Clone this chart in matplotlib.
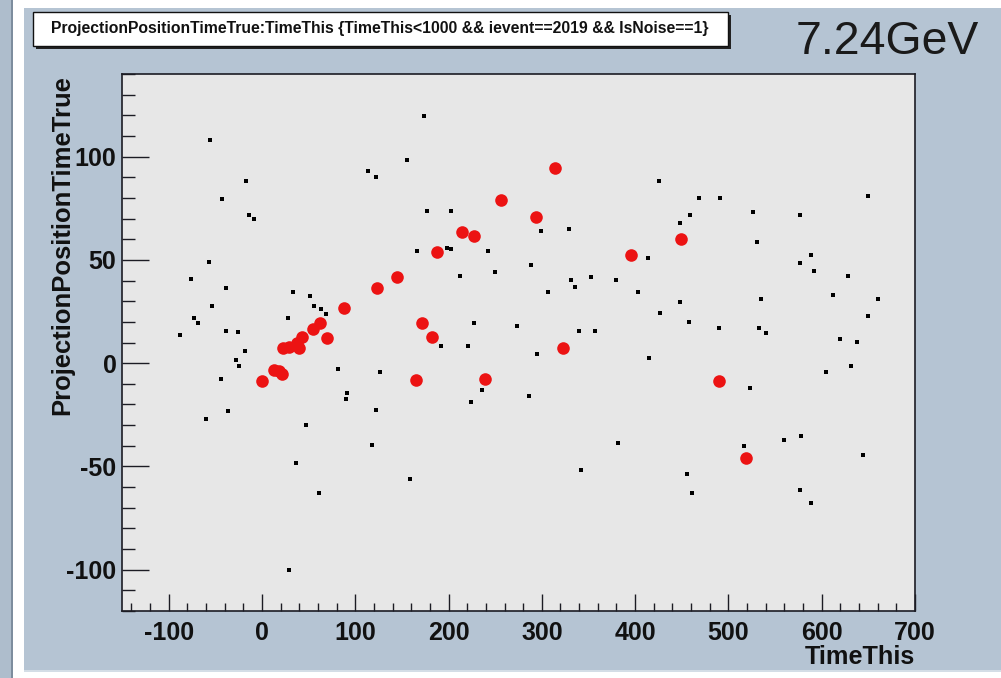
"""
plot.py - ROOT-style scatter of ProjectionPositionTimeTrue vs TimeThis
(noise hits in black, selected hits in red), written to out.png.
"""

import matplotlib
matplotlib.use("Agg")
import matplotlib.pyplot as plt
from matplotlib.patches import Rectangle
from matplotlib.ticker import MultipleLocator

plt.rcParams["axes.unicode_minus"] = False   # ROOT prints a plain hyphen

W, H = 1001, 678

# Noise hits (small black squares)
noise_x = [-55.4, -17.1, -42.8, -14.3, -9.0, 114.1, 122.1, -56.7, -76.4, -38.5,
           33.2, 51.7, 56.3, 63.8, 68.5, 27.4, -53.5, -73.2, -69.0, -87.5,
           -38.2, -26.1, -18.6, -27.5, -24.3, -44.3, -36.8, -59.6, 46.7, 36.4,
           61.0, 28.9, 81.7, 126.7, 91.6, 89.9, 122.1, 117.8,
           174.1, 155.6, 176.7, 202.7, 299.0, 329.3, 165.9, 198.1, 202.7, 241.9,
           288.3, 212.0, 250.1, 330.8, 335.4, 352.2, 379.7, 306.5, 402.9, 413.3,
           227.3, 273.0, 339.7, 357.2,
           192.0, 221.2, 294.4, 236.2, 224.4, 286.5, 381.5, 341.5, 158.8, 415.0,
           425.4, 468.5, 491.0, 649.9, 459.3, 526.3, 577.1, 448.2, 530.6,
           588.9, 576.7, 591.6, 628.5, 448.2, 535.3, 611.7, 660.6, 427.2, 457.8,
           489.6, 532.4, 540.3, 649.9,
           619.2, 638.1, 631.0, 604.2, 523.1, 578.2, 559.2, 517.1, 643.8, 456.1,
           460.7, 576.7, 588.9]
noise_y = [107.9, 88.3, 79.3, 71.7, 69.6, 93.2, 90.3, 48.9, 40.7, 36.5,
           34.6, 32.3, 27.5, 26.2, 23.9, 22.0, 27.5, 22.0, 19.2, 13.8,
           15.8, 15.0, 6.0, 1.3, -1.5, -7.6, -23.4, -26.9, -29.8, -48.4,
           -63.0, -100.0, -2.7, -4.2, -14.5, -17.4, -22.9, -39.5,
           119.5, 98.6, 73.8, 73.8, 64.1, 64.9, 54.4, 55.9, 55.1, 54.4,
           47.6, 42.1, 44.1, 40.5, 37.1, 41.5, 40.5, 34.6, 34.6, 51.0,
           19.2, 17.9, 15.7, 15.7,
           8.2, 8.2, 4.2, -13.2, -18.7, -16.0, -38.7, -51.8, -56.0, 2.6,
           88.3, 80.1, 80.1, 80.7, 71.7, 73.0, 71.7, 67.7, 58.6,
           52.5, 48.3, 44.7, 42.1, 29.7, 31.2, 32.9, 31.0, 24.1, 20.0,
           17.1, 17.1, 14.4, 22.6,
           11.5, 10.4, -1.5, -4.2, -11.9, -35.4, -37.4, -40.0, -44.4, -53.9,
           -63.0, -61.5, -67.8]

# Selected hits (red dots)
sel_x = [0.0, 12.4, 17.8, 21.4, 22.5, 28.5, 37.5, 39.2, 42.8, 55.2,
         62.4, 69.6, 88.4, 123.1, 144.5, 164.9, 171.6, 182.7, 187.4, 214.8,
         227.3, 239.1, 255.9, 293.7, 314.0, 322.9, 396.1, 449.7, 489.6, 518.5]
sel_y = [-8.4, -3.5, -3.9, -5.1, 7.1, 7.7, 9.9, 7.5, 12.6, 16.3,
         19.6, 12.0, 26.5, 36.5, 41.5, -8.2, 19.2, 12.7, 53.8, 63.4,
         61.5, -7.9, 78.8, 70.6, 94.6, 7.5, 52.6, 59.9, -8.4, -45.7]

TITLE = "ProjectionPositionTimeTrue:TimeThis {TimeThis<1000 && ievent==2019 && IsNoise==1}"

PAD_COLOR = "#b5c4d3"
FRAME_COLOR = "#e7e7e7"
INK = "#111111"
BOLD = ["Liberation Sans", "DejaVu Sans"]

fig = plt.figure(figsize=(W / 100, H / 100), dpi=100, facecolor="white")

# background layer in pixel coordinates (origin top-left)
bg = fig.add_axes([0, 0, 1, 1], zorder=0)
bg.set_xlim(0, W)
bg.set_ylim(H, 0)
bg.axis("off")

bg.add_patch(Rectangle((0, 0), 12, H, color="#aebdcc", lw=0))
bg.add_patch(Rectangle((11, 0), 2, H, color="#7d8d9e", lw=0))
bg.add_patch(Rectangle((24, 8), W - 24, 664, color=PAD_COLOR, lw=0))
bg.add_patch(Rectangle((24, 670), W - 24, 2, color="#d4dde6", lw=0))

# title box with drop shadow
bg.add_patch(Rectangle((36, 15), 695, 34, color="#222222", lw=0))
bg.add_patch(Rectangle((33, 12), 695, 34, facecolor="white",
                       edgecolor="#111111", lw=1.0))
title = bg.text(380, 29, TITLE, ha="center", va="center", fontsize=11,
                fontweight="bold", color=INK,
                family=["Liberation Sans Narrow", "Liberation Sans", "DejaVu Sans"])
energy = bg.text(887, 42, "7.24GeV", ha="center", va="center", fontsize=30,
                 color="#1a1a1a", family=["Liberation Sans", "DejaVu Sans"])
ylab = bg.text(62, 75, "ProjectionPositionTimeTrue", ha="center", va="top",
               rotation=90, fontsize=16, fontweight="bold", color=INK, family=BOLD)
xlab = bg.text(915, 657, "TimeThis", ha="right", va="center", fontsize=16,
               fontweight="bold", color=INK, family=BOLD)

# main frame
ax = fig.add_axes([122 / W, 1 - 611 / H, (915 - 122) / W, (611 - 74) / H], zorder=1)
ax.set_facecolor(FRAME_COLOR)
ax.scatter(noise_x, noise_y, s=12, marker="s", color="black", lw=0, zorder=3)
ax.scatter(sel_x, sel_y, s=82, marker="o", color="#ec1313", lw=0, zorder=4)

ax.set_xlim(-150, 700)
ax.set_ylim(-120, 140)
ax.xaxis.set_major_locator(MultipleLocator(100))
ax.xaxis.set_minor_locator(MultipleLocator(20))
ax.yaxis.set_major_locator(MultipleLocator(50))
ax.yaxis.set_minor_locator(MultipleLocator(10))

for sp in ax.spines.values():
    sp.set_color("#1c1c24")
    sp.set_linewidth(1.2)

ax.tick_params(axis="both", which="both", direction="in", top=False, right=False,
               color="#1c1c24", width=1.0, labelcolor=INK)
ax.tick_params(axis="y", which="major", length=19.5, pad=4)
ax.tick_params(axis="y", which="minor", length=9.5)
ax.tick_params(axis="x", which="major", length=12, pad=7)
ax.tick_params(axis="x", which="minor", length=6)
for lab in ax.get_xticklabels() + ax.get_yticklabels():
    lab.set_fontsize(18)
    lab.set_fontweight("bold")
    lab.set_family(BOLD)


def fit(t, target_px, vertical=False):
    """Scale a text's font size so its extent spans target_px."""
    fig.canvas.draw()
    ext = t.get_window_extent()
    cur = ext.height if vertical else ext.width
    t.set_fontsize(t.get_fontsize() * target_px / cur)


fit(title, 658)
fit(energy, 183)
fit(ylab, 340, vertical=True)
fit(xlab, 110)

fig.savefig("out.png", dpi=100, facecolor=fig.get_facecolor())
